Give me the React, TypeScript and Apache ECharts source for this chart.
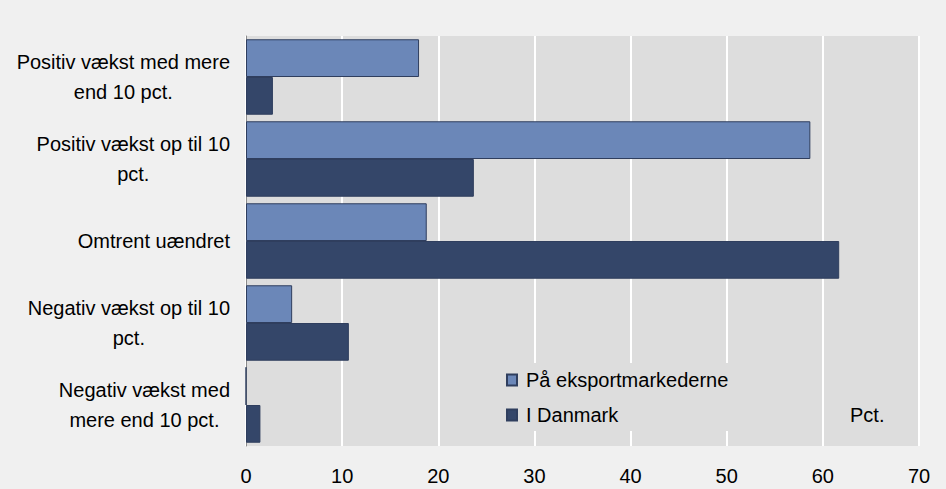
import React, { useEffect, useRef } from "react";
import * as echarts from "echarts";

const categories = [
  "Positiv vækst med mere\nend 10 pct.",
  "Positiv vækst op til 10\npct.",
  "Omtrent uændret",
  "Negativ vækst op til 10\npct.",
  "Negativ vækst med\nmere end 10 pct.",
];
const seriesNames = ["På eksportmarkederne", "I Danmark"];
const exportValues = [18.0, 58.7, 18.8, 4.8, 0];
const danmarkValues = [2.8, 23.7, 61.7, 10.7, 1.5];
const xTicks = { min: 0, max: 70, interval: 10 };
const unitLabel = "Pct.";

const FONT = "'Liberation Sans', Arial, sans-serif";

export default function App() {
  const ref = useRef<HTMLDivElement>(null);
  useEffect(() => {
    document.body.style.margin = "0";
    const chart = echarts.init(ref.current!, undefined, { renderer: "svg" });
    chart.setOption({
      animation: false,
      backgroundColor: "#f0f0f0",
      textStyle: { fontFamily: FONT },
      grid: {
        left: 246,
        right: 27,
        top: 36,
        bottom: 43,
        show: true,
        backgroundColor: "#dddddd",
        borderWidth: 0,
        containLabel: false,
      },
      xAxis: {
        type: "value",
        min: xTicks.min,
        max: xTicks.max,
        interval: xTicks.interval,
        axisLine: { show: false },
        axisTick: { show: false },
        axisLabel: { color: "#000", fontSize: 20, fontFamily: FONT, margin: 20 },
        splitLine: { show: true, lineStyle: { color: "#ffffff", width: 2 } },
      },
      yAxis: {
        type: "category",
        data: categories,
        inverse: true,
        axisLine: { show: true, lineStyle: { color: "#8a8a8a", width: 1 } },
        axisTick: { show: false },
        axisLabel: {
          margin: 16,
          align: "right",
          formatter: (v: string) =>
            v
              .split("\n")
              .map((l) => `{a|${l}}`)
              .join("\n"),
          rich: {
            a: {
              align: "center",
              fontSize: 20,
              lineHeight: 30,
              color: "#000",
              fontFamily: FONT,
            },
          },
        },
        splitLine: { show: false },
      },
      legend: {
        orient: "vertical",
        left: 500,
        top: 363,
        icon: "rect",
        itemWidth: 10,
        itemHeight: 11,
        itemGap: 15,
        backgroundColor: "#dddddd",
        padding: [7, 24, 6, 6],
        textStyle: { color: "#000", fontSize: 20, fontFamily: FONT, lineHeight: 20, padding: [0, 0, 0, 4] },
        data: seriesNames,
      },
      graphic: [
        {
          type: "text",
          left: 850,
          top: 405,
          z: 100,
          style: { text: unitLabel, fontSize: 20, fontFamily: FONT, fill: "#000" },
        },
      ],
      series: [
        {
          name: seriesNames[0],
          type: "bar",
          data: exportValues,
          barGap: "0%",
          barCategoryGap: "8%",
          itemStyle: { color: "#6b87b8", borderColor: "#2f3e5e", borderWidth: 1 },
        },
        {
          name: seriesNames[1],
          type: "bar",
          data: danmarkValues,
          barGap: "0%",
          barCategoryGap: "8%",
          itemStyle: { color: "#344669", borderColor: "#2f3e5e", borderWidth: 1 },
        },
      ],
    });
    return () => chart.dispose();
  }, []);
  return <div ref={ref} style={{ width: 946, height: 489 }} />;
}
